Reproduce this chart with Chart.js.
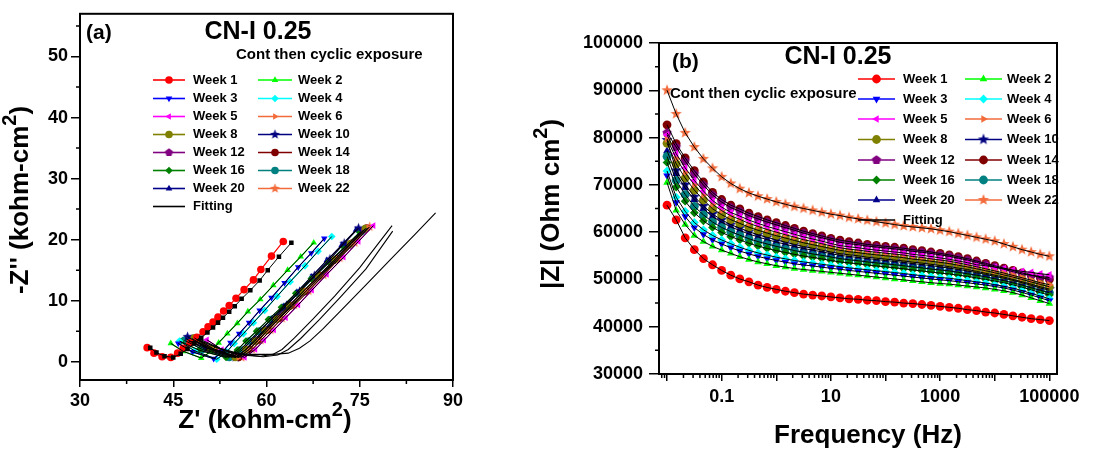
<!DOCTYPE html>
<html><head><meta charset="utf-8">
<script src="https://cdn.jsdelivr.net/npm/chart.js@4.4.0/dist/chart.umd.min.js"></script>
<style>
html,body{margin:0;padding:0;background:#fff;}
body{width:1108px;height:451px;position:relative;overflow:hidden;}
#ca{position:absolute;left:0;top:0;}
#cb{position:absolute;left:520px;top:0;}
</style></head><body>
<canvas id="ca" width="470" height="451"></canvas>
<canvas id="cb" width="588" height="451"></canvas>
<script>
// ---------------- DATA ----------------
const weekLabels = ['Week 1','Week 2','Week 3','Week 4','Week 5','Week 6','Week 8','Week 10','Week 12','Week 14','Week 16','Week 18','Week 20','Week 22'];

// Panel (a): Nyquist  [Z' , -Z''] in kohm-cm2
const nyqW1  = [[40.8,2.3],[41.9,1.4],[43.2,0.8],[44.6,0.7],[45.7,1.4],[46.6,2.2],[47.7,3.1],[48.8,4.0],[49.8,4.9],[50.6,5.7],[51.4,6.5],[52.2,7.3],[53.1,8.3],[54.0,9.2],[55.1,10.4],[56.4,11.8],[57.9,13.4],[59.1,15.1],[60.8,17.3],[62.7,19.7]];
const nyqW2  = [[44.6,3.0],[46.6,1.7],[49.5,0.6],[51.1,1.7],[52.3,3.1],[53.7,4.6],[55.3,6.3],[57.0,8.2],[59.0,10.2],[61.1,12.5],[63.4,15.0],[65.5,17.2],[67.6,19.5]];
const nyqW3  = [[45.8,3.0],[48.1,1.6],[51.5,0.5],[53.0,1.7],[54.2,3.1],[55.6,4.6],[57.2,6.4],[58.9,8.4],[60.8,10.5],[62.9,12.9],[65.1,15.5],[67.2,17.8],[69.3,20.2]];
const nyqW4  = [[46.0,3.4],[48.4,1.8],[52.0,0.4],[53.6,1.6],[54.8,3.0],[56.3,4.6],[57.9,6.4],[59.7,8.4],[61.7,10.7],[63.8,13.1],[66.2,15.7],[68.3,18.1],[70.5,20.5]];
const nyqW5  = [[50.4,3.6],[52.8,2.0],[56.5,0.7],[58.2,2.0],[59.6,3.5],[61.2,5.2],[63.1,7.2],[65.1,9.3],[67.3,11.7],[69.7,14.3],[72.4,17.1],[74.8,19.7],[77.2,22.3]];
const nyqW6  = [[49.0,3.6],[51.6,2.0],[55.5,0.7],[57.2,2.0],[58.7,3.5],[60.3,5.2],[62.1,7.1],[64.2,9.2],[66.4,11.6],[68.9,14.1],[71.5,16.9],[74.0,19.4],[76.4,22.0]];
const nyqW8  = [[48.4,3.9],[51.0,2.1],[55.0,0.7],[56.7,2.0],[58.2,3.4],[59.8,5.1],[61.6,7.0],[63.7,9.1],[65.9,11.5],[68.4,14.0],[71.0,16.7],[73.5,19.3],[75.9,21.8]];
const nyqW10 = [[47.3,4.1],[50.4,2.2],[55.0,0.7],[56.7,2.0],[58.0,3.5],[59.6,5.2],[61.3,7.1],[63.2,9.2],[65.3,11.5],[67.7,14.1],[70.2,16.8],[72.5,19.4],[74.8,21.9]];
const nyqW12 = [[48.0,3.8],[50.8,2.1],[55.0,0.7],[56.7,2.0],[58.1,3.4],[59.7,5.1],[61.5,7.0],[63.5,9.1],[65.8,11.4],[68.2,13.9],[70.8,16.6],[73.2,19.1],[75.6,21.6]];
const nyqW14 = [[48.8,3.7],[51.5,2.1],[55.5,0.7],[57.2,2.0],[58.6,3.5],[60.2,5.2],[62.0,7.1],[64.0,9.2],[66.3,11.5],[68.7,14.1],[71.3,16.8],[73.7,19.4],[76.1,21.9]];
const nyqW16 = [[46.2,3.3],[49.1,1.9],[53.5,0.7],[55.3,1.9],[56.7,3.4],[58.4,5.0],[60.3,6.9],[62.4,8.9],[64.7,11.2],[67.2,13.6],[70.0,16.3],[72.5,18.7],[75.0,21.2]];
const nyqW18 = [[46.8,3.5],[49.7,2.0],[54.0,0.7],[55.7,1.9],[57.2,3.4],[58.8,5.0],[60.7,6.9],[62.8,8.9],[65.1,11.2],[67.5,13.7],[70.2,16.4],[72.7,18.8],[75.2,21.3]];
const nyqW20 = [[47.0,3.8],[50.0,2.1],[54.5,0.7],[56.2,2.0],[57.5,3.4],[59.1,5.1],[60.8,7.0],[62.8,9.1],[64.9,11.4],[67.2,13.9],[69.7,16.6],[72.1,19.1],[74.4,21.6]];
const nyqW22 = [[48.6,3.4],[51.6,1.9],[56.0,0.7],[57.7,2.0],[59.1,3.5],[60.7,5.2],[62.5,7.1],[64.5,9.3],[66.8,11.6],[69.2,14.2],[71.8,17.0],[74.2,19.5],[76.6,22.1]];
// fitted curves (panel a)
const nyqFitW1 = [[41.3,2.3],[42.3,1.5],[43.6,0.9],[45.0,0.7],[46.2,1.3],[47.3,2.1],[48.4,3.0],[49.5,3.9],[50.5,4.8],[51.4,5.6],[52.2,6.4],[53.0,7.2],[54.0,8.2],[54.9,9.1],[56.0,10.3],[57.4,11.7],[58.9,13.3],[60.2,15.0],[62.0,17.2],[64.0,19.5]];
const nyqFitA = [[47.5,3.4],[50.5,2.2],[54.0,1.5],[57.5,1.2],[61.0,1.2],[63.5,1.4],[65.3,2.2],[67.0,3.4],[69.0,5.3],[72.0,8.4],[76.0,12.6],[80.0,16.8],[84.0,21.0],[87.2,24.4]];
const nyqFitB = [[49.0,3.8],[52.5,2.2],[56.0,1.2],[59.0,0.9],[61.0,1.2],[62.5,2.0],[64.5,3.9],[67.5,7.0],[71.0,10.8],[75.0,15.4],[80.2,22.3]];
const nyqFitC = [[49.0,3.6],[52.5,2.1],[56.0,1.1],[59.5,0.8],[61.8,1.1],[63.5,2.0],[65.5,3.8],[68.5,6.9],[72.0,10.7],[76.0,15.2],[80.3,21.4]];

// Panel (b): Bode |Z| (Ohm cm2) vs frequency (Hz)
const frequencies = [0.01,0.0147,0.0215,0.0316,0.0464,0.0681,0.1,0.147,0.215,0.316,0.464,0.681,1,1.47,2.15,3.16,4.64,6.81,10,14.7,21.5,31.6,46.4,68.1,100,147,215,316,464,681,1000,1470,2150,3160,4640,6810,10000,14700,21500,31600,46400,68100,100000];
const bodeW1  = [65700,62600,58800,56300,54400,53100,51900,50900,50100,49500,48800,48300,47900,47500,47200,46900,46700,46500,46300,46100,45900,45800,45600,45500,45300,45200,45000,44900,44700,44500,44300,44100,43900,43600,43400,43100,42900,42600,42300,42000,41700,41500,41300];
const bodeW2  = [70500,64600,61600,59300,58000,57000,56200,55500,54800,54200,53700,53300,52900,52600,52300,52100,51900,51700,51500,51300,51100,50900,50700,50500,50300,50100,49900,49700,49500,49300,49150,49000,48800,48600,48400,48200,47900,47600,47200,46700,46100,45500,44900];
const bodeW3  = [71950,66300,63300,60950,59500,58350,57500,56700,56000,55400,54850,54400,54000,53650,53300,53050,52850,52600,52350,52150,51900,51700,51500,51300,51100,50900,50700,50500,50300,50100,49900,49750,49500,49300,49050,48800,48500,48200,47750,47250,46700,46100,45500];
const bodeW4  = [72950,67400,64400,62050,60500,59300,58350,57550,56800,56150,55600,55150,54700,54350,54000,53700,53450,53200,52950,52700,52450,52250,52050,51850,51650,51450,51250,51000,50800,50600,50400,50250,50000,49750,49500,49250,48900,48550,48150,47650,47050,46500,45900];
const bodeW5  = [80600,76600,73600,70950,68700,66700,65300,64150,63400,62550,61850,61200,60650,60100,59550,59000,58550,58100,57600,57150,56900,56700,56400,56200,56000,55800,55600,55300,55100,54850,54550,54250,53900,53550,53100,52900,52600,52300,52000,51700,51500,51200,51000];
const bodeW6  = [79700,75600,72600,70000,67850,65900,64550,63450,62700,61850,61200,60550,60000,59450,58950,58400,58000,57550,57100,56700,56400,56200,55950,55750,55550,55350,55150,54850,54650,54350,54100,53850,53500,53100,52700,52250,51800,51350,50850,50350,49850,49300,48900];
const bodeW8  = [78800,74450,71450,68900,66800,64950,63700,62650,61850,61050,60400,59800,59250,58750,58250,57750,57350,56950,56550,56150,55850,55650,55400,55200,55000,54800,54600,54300,54100,53850,53600,53350,53000,52650,52250,51850,51400,50950,50500,50000,49450,48950,48450];
const bodeW10 = [79500,73050,70050,67500,65550,63850,62600,61600,60850,60100,59450,58900,58350,57900,57400,56950,56600,56200,55800,55450,55200,55000,54700,54500,54300,54100,53900,53650,53450,53200,52950,52700,52400,52100,51700,51300,50900,50500,50000,49500,49000,48450,47950];
const bodeW12 = [81000,78000,75000,72300,69950,67850,66350,65200,64400,63500,62800,62150,61550,60950,60400,59800,59300,58800,58350,57850,57550,57350,57050,56850,56650,56450,56250,55950,55750,55500,55200,54900,54500,54100,53600,53150,52650,52150,51650,51150,50900,50600,50400];
const bodeW14 = [82700,78700,75700,73000,70600,68400,66900,65700,64900,64000,63300,62600,62000,61400,60800,60200,59700,59200,58700,58300,58000,57700,57400,57200,57000,56800,56600,56300,56100,55800,55500,55200,54800,54400,53900,53400,52900,52400,51900,51400,50900,50400,50000];
const bodeW16 = [74750,69550,66550,64100,62400,61000,59950,59050,58350,57650,57050,56550,56100,55700,55300,54950,54650,54350,54000,53700,53500,53300,53050,52850,52650,52450,52250,52000,51800,51550,51350,51150,50900,50650,50300,50000,49650,49300,48850,48350,47800,47200,46700];
const bodeW18 = [76000,70950,67950,65450,63650,62150,61000,60100,59350,58600,58000,57500,57000,56550,56100,55750,55400,55100,54750,54400,54150,53950,53700,53500,53300,53100,52900,52650,52450,52200,52000,51800,51500,51200,50900,50550,50150,49750,49300,48800,48250,47700,47200];
const bodeW20 = [77200,72350,69350,66850,64950,63250,62100,61100,60350,59600,59000,58400,57900,57450,56950,56550,56200,55850,55450,55100,54850,54650,54400,54200,54000,53800,53600,53350,53150,52900,52650,52400,52100,51800,51450,51050,50650,50250,49800,49300,48750,48200,47700];
const bodeW22 = [90000,85000,81000,78000,75500,73500,71700,70300,69200,68300,67600,67000,66400,65900,65400,65000,64600,64200,63800,63500,63100,62800,62500,62200,61900,61600,61300,61100,60900,60700,60400,60100,59700,59300,58900,58500,58100,57500,56900,56300,55800,55300,54900];

// tick values / labels
const nyqXTicks = [30,45,60,75,90];
const nyqYTicks = [0,10,20,30,40,50];
const bodeXTicks = [0.01,0.1,1,10,100,1000,10000,100000];
const bodeXLabeled = [0.1,10,1000,100000];
const bodeYTicks = [30000,40000,50000,60000,70000,80000,90000,100000];

// ---------------- STYLES ----------------
const FONT = '"Liberation Sans", Arial, Helvetica, sans-serif';
function shapeCanvas(kind, color, r){
  const s = Math.ceil(2*r+2); const cv = document.createElement('canvas');
  cv.width = s; cv.height = s; const g = cv.getContext('2d');
  g.fillStyle = color; g.beginPath();
  const n = kind === 'star' ? 10 : 5;
  for (let i=0;i<n;i++){
    const rad = kind === 'star' ? (i%2 ? r*0.42 : r) : r;
    const a = -Math.PI/2 + i*2*Math.PI/n;
    const px = s/2 + rad*Math.cos(a), py = s/2 + rad*Math.sin(a);
    if (i===0) g.moveTo(px,py); else g.lineTo(px,py);
  }
  g.closePath(); g.fill(); return cv;
}
const styleDefs = [
  {c:'#FF0000', s:'circle'},
  {c:'#00FF00', s:'triangle'},
  {c:'#0000FF', s:'triangle', rot:180},
  {c:'#00FFFF', s:'rectRot'},
  {c:'#FF00FF', s:'triangle', rot:270},
  {c:'#F36B3B', s:'triangle', rot:90},
  {c:'#808000', s:'circle'},
  {c:'#000080', s:'star'},
  {c:'#800080', s:'pentagon'},
  {c:'#800000', s:'circle'},
  {c:'#008000', s:'rectRot'},
  {c:'#008080', s:'circle'},
  {c:'#00008B', s:'triangle'},
  {c:'#F36B3B', s:'star'}
];
function pStyle(i, r){
  const d = styleDefs[i];
  if (d.s === 'star') return shapeCanvas('star', d.c, r*1.35);
  if (d.s === 'pentagon') return shapeCanvas('pentagon', d.c, r*1.1);
  return d.s;
}

const nyqSeries = [nyqW1,nyqW2,nyqW3,nyqW4,nyqW5,nyqW6,nyqW8,nyqW10,nyqW12,nyqW14,nyqW16,nyqW18,nyqW20,nyqW22];
const bodeSeries = [bodeW1,bodeW2,bodeW3,bodeW4,bodeW5,bodeW6,bodeW8,bodeW10,bodeW12,bodeW14,bodeW16,bodeW18,bodeW20,bodeW22];

// ---------------- HELPERS ----------------
function drawSup(ctx, segs, x, y, size, align){
  const nf = 'bold ' + size + 'px ' + FONT, sf = 'bold ' + Math.round(size*0.75) + 'px ' + FONT;
  let w = 0;
  segs.forEach(s => { ctx.font = s[1] ? sf : nf; w += ctx.measureText(s[0]).width; });
  let cx = align === 'left' ? x : x - w/2;
  ctx.textAlign = 'left'; ctx.textBaseline = 'middle'; ctx.fillStyle = '#000';
  segs.forEach(s => {
    ctx.font = s[1] ? sf : nf;
    ctx.fillText(s[0], cx, s[1] ? y - size*0.4 : y);
    cx += ctx.measureText(s[0]).width;
  });
}
function text(ctx, t, x, y, size, align){
  ctx.font = 'bold ' + size + 'px ' + FONT; ctx.fillStyle = '#000';
  ctx.textAlign = align || 'left'; ctx.textBaseline = 'middle'; ctx.fillText(t, x, y);
}
function legendItem(ctx, i, x1, x2, y, tx, r, size){
  const d = i === null ? {c:'#000'} : styleDefs[i];
  ctx.strokeStyle = d.c; ctx.lineWidth = 1.6; ctx.beginPath(); ctx.moveTo(x1,y); ctx.lineTo(x2,y); ctx.stroke();
  if (i !== null){
    ctx.fillStyle = d.c; ctx.strokeStyle = d.c;
    const ps = pStyle(i, r);
    if (typeof ps === 'object') ctx.drawImage(ps, (x1+x2)/2 - ps.width/2, y - ps.height/2);
    else Chart.helpers.drawPoint(ctx, {pointStyle: ps, rotation: d.rot||0, radius: r, borderWidth: 0}, (x1+x2)/2, y);
  }
  text(ctx, i === null ? 'Fitting' : weekLabels[i], tx, y, size, 'left');
}
function frameAndMinor(ctx, ca, minorX, minorY){
  ctx.save();
  ctx.strokeStyle = '#000'; ctx.lineWidth = 2;
  ctx.strokeRect(ca.left, ca.top, ca.right-ca.left, ca.bottom-ca.top);
  ctx.lineWidth = 1.5; ctx.beginPath();
  minorX.forEach(px => { ctx.moveTo(px, ca.bottom); ctx.lineTo(px, ca.bottom+4); });
  minorY.forEach(py => { ctx.moveTo(ca.left, py); ctx.lineTo(ca.left-4, py); });
  ctx.stroke(); ctx.restore();
}
const tickFont = {family: FONT, weight: 'bold', size: 18};
function axisCommon(len){
  return { grid:{drawOnChartArea:false, drawTicks:true, tickLength:len||8, color:'#000', lineWidth:1.5},
           border:{display:false} };
}

// ---------------- PANEL A ----------------
(function(){
  const ds = [];
  ds.push({data: nyqFitW1.map(p=>({x:p[0],y:p[1]})), showLine:true, borderColor:'#000', borderWidth:1,
           pointStyle:'rect', pointRadius:3.2, backgroundColor:'#000', pointBorderWidth:0, order:0});
  [nyqFitA, nyqFitB, nyqFitC].forEach(f => ds.push({data:f.map(p=>({x:p[0],y:p[1]})), showLine:true,
           borderColor:'#000', borderWidth:1.1, pointRadius:0, order:0}));
  nyqSeries.forEach((s,i) => { if (i>0) ds.push({data:s.map(p=>({x:p[0],y:p[1]})), showLine:true,
           borderColor:'#000', borderWidth:1, pointRadius:0, order:0}); });
  nyqSeries.forEach((s,i) => {
    const d = styleDefs[i];
    ds.push({label: weekLabels[i], data: s.map(p=>({x:p[0],y:p[1]})), showLine:true,
      borderColor: d.c, borderWidth: 1.2, backgroundColor: d.c, pointBorderWidth:0,
      pointStyle: pStyle(i, 3.8), pointRadius: 3.8, pointRotation: d.rot||0, order:1});
  });
  const plug = { id:'decoA', afterDraw(chart){
    const ctx = chart.ctx, ca = chart.chartArea, x = chart.scales.x, y = chart.scales.y;
    ctx.save();
    text(ctx, '(a)', 86, 33, 21, 'left');
    text(ctx, 'CN-I 0.25', 258, 32, 25, 'center');
    text(ctx, 'Cont then cyclic exposure', 236, 55, 15, 'left');
    const rows = [80, 98.5, 116.5, 134.5, 152.5, 170.5, 188.5];
    for (let r=0;r<7;r++){
      legendItem(ctx, 2*r, 153, 185, rows[r], 193, 3.8, 13);
      legendItem(ctx, 2*r+1, 258, 292, rows[r], 298, 3.8, 13);
    }
    legendItem(ctx, null, 153, 185, 206.5, 193, 0, 13);
    ctx.save(); ctx.translate(21, 200); ctx.rotate(-Math.PI/2);
    drawSup(ctx, [["-Z'' (kohm-cm",false],['2',true],[')',false]], 0, 0, 26);
    ctx.restore();
    drawSup(ctx, [["Z' (kohm-cm",false],['2',true],[')',false]], 265, 421, 26);
    ctx.restore();
    const mx = []; for (let i=0;i<nyqXTicks.length-1;i++) mx.push(x.getPixelForValue((nyqXTicks[i]+nyqXTicks[i+1])/2));
    const my = []; for (let i=0;i<nyqYTicks.length;i++) my.push(y.getPixelForValue(nyqYTicks[i]+5));
    frameAndMinor(ctx, ca, mx, my);
  }};
  new Chart(document.getElementById('ca'), {
    type:'scatter', data:{datasets:ds}, plugins:[plug],
    options:{ responsive:false, animation:false, devicePixelRatio:1,
      layout:{padding:{left:0, top:8, right:17, bottom:0}},
      plugins:{legend:{display:false}, tooltip:{enabled:false}},
      elements:{line:{tension:0}},
      scales:{
        x: Object.assign(axisCommon(7), {type:'linear', min:30, max:90,
             afterBuildTicks(s){ s.ticks = nyqXTicks.map(v=>({value:v})); },
             afterFit(s){ s.height = 71; },
             ticks:{font:tickFont, color:'#000', padding:3, autoSkip:false, maxRotation:0}}),
        y: Object.assign(axisCommon(9), {type:'linear', min:-3, max:57,
             afterBuildTicks(s){ s.ticks = nyqYTicks.map(v=>({value:v})); },
             afterFit(s){ s.width = 80; },
             ticks:{font:tickFont, color:'#000', padding:3}})
      }
    }
  });
})();

// ---------------- PANEL B ----------------
(function(){
  const ds = [];
  bodeSeries.forEach(s => ds.push({data: s.map((v,k)=>({x:frequencies[k], y:v})), showLine:true,
     borderColor:'#000', borderWidth:1, pointRadius:0, order:0}));
  bodeSeries.forEach((s,i) => {
    const d = styleDefs[i];
    ds.push({label: weekLabels[i], data: s.map((v,k)=>({x:frequencies[k], y:v})), showLine:false,
      borderColor: d.c, backgroundColor: d.c, pointBorderWidth:0,
      pointStyle: pStyle(i, 4.4), pointRadius: 4.4, pointRotation: d.rot||0, order:1});
  });
  const OX = 40; // canvas offset relative to panel layout
  const plug = { id:'decoB', afterDraw(chart){
    const ctx = chart.ctx, ca = chart.chartArea, x = chart.scales.x, y = chart.scales.y;
    ctx.save();
    text(ctx, '(b)', OX+112, 62, 21, 'left');
    text(ctx, 'CN-I 0.25', OX+278, 57, 25, 'center');
    text(ctx, 'Cont then cyclic exposure', OX+110, 94, 15, 'left');
    const rows = [79, 99, 119, 139.5, 160, 180, 200];
    for (let r=0;r<7;r++){
      legendItem(ctx, 2*r, OX+298, OX+335, rows[r], OX+343, 4.4, 13);
      legendItem(ctx, 2*r+1, OX+405, OX+442, rows[r], OX+447, 4.4, 13);
    }
    legendItem(ctx, null, OX+298, OX+335, 220, OX+343, 0, 13);
    ctx.save(); ctx.translate(OX-8, 204); ctx.rotate(-Math.PI/2);
    drawSup(ctx, [['|Z| (Ohm cm',false],['2',true],[')',false]], 0, 0, 26);
    ctx.restore();
    text(ctx, 'Frequency (Hz)', OX+308, 436, 26, 'center');
    ctx.restore();
    const mx = [];
    for (let k=0;k<bodeXTicks.length;k++) for (let m=2;m<=9;m++){
      const v = bodeXTicks[k]*m; if (v < x.max) mx.push(x.getPixelForValue(v)); }
    for (let m=8;m<=9;m++){ const v = 0.001*m; if (v > x.min) mx.push(x.getPixelForValue(v)); }
    const my = []; for (let i=0;i<bodeYTicks.length-1;i++) my.push(y.getPixelForValue(bodeYTicks[i]+5000));
    frameAndMinor(ctx, ca, mx, my);
  }};
  new Chart(document.getElementById('cb'), {
    type:'scatter', data:{datasets:ds}, plugins:[plug],
    options:{ responsive:false, animation:false, devicePixelRatio:1,
      layout:{padding:{left:0, top:43, right:51, bottom:0}},
      plugins:{legend:{display:false}, tooltip:{enabled:false}},
      scales:{
        x: Object.assign(axisCommon(7), {type:'logarithmic', min:0.00713, max:138000,
             afterBuildTicks(s){ s.ticks = bodeXTicks.map(v=>({value:v})); },
             afterFit(s){ s.height = 77; },
             ticks:{font:tickFont, color:'#000', padding:5, autoSkip:false, maxRotation:0,
                    callback(v){ return bodeXLabeled.includes(v) ? String(v) : ''; }}}),
        y: Object.assign(axisCommon(10), {type:'linear', min:30000, max:100000,
             afterBuildTicks(s){ s.ticks = bodeYTicks.map(v=>({value:v})); },
             afterFit(s){ s.width = 139; },
             ticks:{font:tickFont, color:'#000', padding:6, callback(v){ return String(v); }}})
      }
    }
  });
})();
</script>
</body></html>
